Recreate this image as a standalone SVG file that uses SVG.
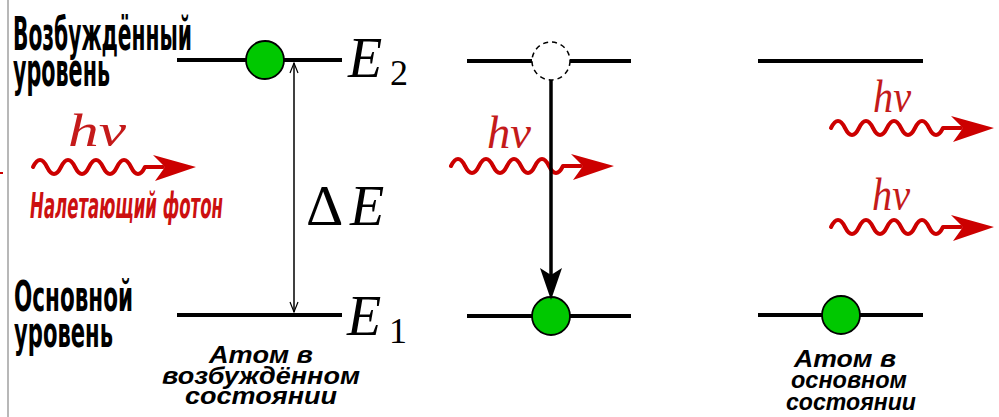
<svg xmlns="http://www.w3.org/2000/svg" xmlns:xlink="http://www.w3.org/1999/xlink" width="999" height="417" viewBox="0 0 999 417">
<style>
.lvl{stroke:#000;stroke-width:4;fill:none}
.atom{fill:#00c800;stroke:#000;stroke-width:1.8}
.ghost{fill:#fff;stroke:#000;stroke-width:1.5;stroke-dasharray:5 4}
.lab{font-family:"Liberation Sans Narrow","DejaVu Sans Condensed","Liberation Sans",sans-serif;font-weight:bold;fill:#000}
.red{font-family:"Liberation Sans Narrow","DejaVu Sans Condensed","Liberation Sans",sans-serif;font-weight:bold;font-style:italic;fill:#cc1010}
.math{font-family:"Liberation Serif","DejaVu Serif",serif;font-style:italic;fill:#000;font-size:56px}
.up{font-family:"Liberation Serif","DejaVu Serif",serif;font-style:normal;fill:#000;font-size:58px}
.sub{font-family:"Liberation Serif","DejaVu Serif",serif;fill:#000;font-size:36px}
.hv{font-family:"Liberation Serif","DejaVu Serif",serif;font-style:italic;fill:#c41a1a;font-size:46px}
.cap{font-family:"Liberation Sans",Arial,sans-serif;font-weight:bold;font-style:italic;font-size:24px;fill:#000;text-anchor:middle}
.wave{fill:none;stroke:#cc0000;stroke-width:4;stroke-linecap:round;stroke-linejoin:round}
</style>
<defs>
<g id="photon">
<path class="wave" d="M0,0 q7,-14 14,0 t14,0 t14,0 t14,0 t14,0 t14,0 t14,0 t14,0 L130,0"/>
<polygon points="163,0 120,-12 132,0 122,14" fill="#cc0000"/>
</g>
</defs>
<rect x="0" y="0" width="999" height="417" fill="#fff"/>
<line x1="8" y1="0" x2="8" y2="417" stroke="#b8b8b8" stroke-width="2"/>
<line x1="0" y1="173" x2="3" y2="173" stroke="#cc0000" stroke-width="2"/>

<g id="labels-left">
<text class="lab" x="13" y="50" font-size="46" textLength="179" lengthAdjust="spacingAndGlyphs">Возбуждённый</text>
<text class="lab" x="13" y="86" font-size="46" textLength="97" lengthAdjust="spacingAndGlyphs">уровень</text>
<text class="lab" x="14" y="311" font-size="42" textLength="119" lengthAdjust="spacingAndGlyphs">Основной</text>
<text class="lab" x="14" y="347" font-size="42" textLength="99" lengthAdjust="spacingAndGlyphs">уровень</text>
<text class="red" x="30" y="218" font-size="35" textLength="193" lengthAdjust="spacingAndGlyphs">Налетающий фотон</text>
</g>

<g id="atom-excited">
<line class="lvl" x1="177" y1="60" x2="342" y2="60"/>
<line class="lvl" x1="177" y1="315" x2="342" y2="315"/>
<circle class="atom" cx="265" cy="60" r="19"/>
<text class="math" x="348" y="77">E</text>
<text class="sub" x="390" y="85">2</text>
<text class="math" x="347" y="335">E</text>
<text class="sub" x="389" y="343">1</text>
<text class="up" x="306" y="225">Δ</text>
<text class="math" x="350" y="225">E</text>
<text class="cap" x="261" y="363" textLength="104" lengthAdjust="spacingAndGlyphs">Атом в</text>
<text class="cap" x="261" y="384" textLength="198" lengthAdjust="spacingAndGlyphs">возбуждённом</text>
<text class="cap" x="261" y="404" textLength="152" lengthAdjust="spacingAndGlyphs">состоянии</text>
</g>

<g id="atom-transition">
<line class="lvl" x1="467" y1="61" x2="532" y2="61"/>
<line class="lvl" x1="570" y1="61" x2="631" y2="61"/>
<line class="lvl" x1="467" y1="316" x2="631" y2="316"/>
<circle class="ghost" cx="551" cy="61" r="19"/>
<circle class="atom" cx="551" cy="316" r="19"/>
</g>

<g id="atom-ground">
<line class="lvl" x1="758" y1="61" x2="923" y2="61"/>
<line class="lvl" x1="758" y1="315" x2="923" y2="315"/>
<circle class="atom" cx="841" cy="315" r="19"/>
<text class="cap" x="845" y="367" textLength="102" lengthAdjust="spacingAndGlyphs">Атом в</text>
<text class="cap" x="849" y="388" textLength="116" lengthAdjust="spacingAndGlyphs">основном</text>
<text class="cap" x="851" y="410" textLength="130" lengthAdjust="spacingAndGlyphs">состоянии</text>
</g>

<g id="photons">
<use xlink:href="#photon" href="#photon" x="33" y="167"/>
<text class="hv" x="68" y="146" textLength="58" lengthAdjust="spacingAndGlyphs">hν</text>
<use xlink:href="#photon" href="#photon" x="451" y="166"/>
<text class="hv" x="487" y="148" textLength="44" lengthAdjust="spacingAndGlyphs">hν</text>
<use xlink:href="#photon" href="#photon" x="831" y="128"/>
<text class="hv" x="873" y="112" textLength="38" lengthAdjust="spacingAndGlyphs">hν</text>
<use xlink:href="#photon" href="#photon" x="831" y="227"/>
<text class="hv" x="872" y="210" textLength="38" lengthAdjust="spacingAndGlyphs">hν</text>
</g>

<g id="connectors">
<line x1="294" y1="63" x2="294" y2="312" stroke="#000" stroke-width="1.5"/>
<polyline points="290,73 294,63 298,73" fill="none" stroke="#000" stroke-width="1.2"/>
<polyline points="290,302 294,312 298,302" fill="none" stroke="#000" stroke-width="1.2"/>
<line x1="551" y1="80" x2="551" y2="278" stroke="#000" stroke-width="3.5"/>
<polygon points="540,268 551,275 562,268 551,300" fill="#000"/>
</g>
</svg>
